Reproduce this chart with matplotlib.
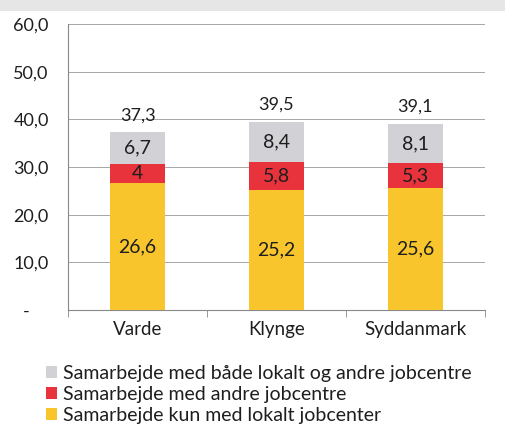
import matplotlib
matplotlib.use("Agg")
import matplotlib.pyplot as plt
import numpy as np

categories = ["Varde", "Klynge", "Syddanmark"]
lokalt = [26.6, 25.2, 25.6]
andre = [4, 5.8, 5.3]
begge = [6.7, 8.4, 8.1]
lokalt_lbl = ["26,6", "25,2", "25,6"]
andre_lbl = ["4", "5,8", "5,3"]
begge_lbl = ["6,7", "8,4", "8,1"]
totals = [37.3, 39.5, 39.1]
total_lbl = ["37,3", "39,5", "39,1"]
series_names = ["Samarbejde med både lokalt og andre jobcentre",
                "Samarbejde med andre jobcentre",
                "Samarbejde kun med lokalt jobcenter"]
yticks = [0, 10, 20, 30, 40, 50, 60]
ytick_lbl = ["-    ", "10,0", "20,0", "30,0", "40,0", "50,0", "60,0"]

c_yel = "#f8c62c"
c_red = "#e8323c"
c_gry = "#d2d2d6"

plt.rcParams['font.family'] = ['Lato', 'DejaVu Sans']

fig = plt.figure(figsize=(5.05, 4.29), dpi=100)
fig.patch.set_facecolor("white")
# top gray strip (cut off title area)
fig.patches.append(plt.Rectangle((0, 0.975), 1, 0.025, transform=fig.transFigure,
                                 facecolor="#e6e6e6", edgecolor="none"))
ax = fig.add_axes([0.135, 0.277, 0.825, 0.667])
x = np.arange(len(categories))
w = 0.4
b1 = ax.bar(x, lokalt, w, color=c_yel, zorder=3)
b2 = ax.bar(x, andre, w, bottom=lokalt, color=c_red, zorder=3)
bot3 = [a + b for a, b in zip(lokalt, andre)]
b3 = ax.bar(x, begge, w, bottom=bot3, color=c_gry, zorder=3)

tc = "#1e1e1e"
fs = 14
for i in range(len(categories)):
    ax.text(x[i], lokalt[i] / 2, lokalt_lbl[i], ha="center", va="center", fontsize=fs, color=tc, zorder=4)
    ax.text(x[i], lokalt[i] + andre[i] / 2, andre_lbl[i], ha="center", va="center", fontsize=fs, color=tc, zorder=4)
    ax.text(x[i], bot3[i] + begge[i] / 2, begge_lbl[i], ha="center", va="center", fontsize=fs, color=tc, zorder=4)
    ax.text(x[i], totals[i] + 3.5, total_lbl[i], ha="center", va="center", fontsize=13, color=tc, zorder=4)

ax.set_xlim(-0.5, 2.5)
ax.set_ylim(0, 60)
ax.set_yticks(yticks)
ax.set_yticklabels(ytick_lbl, fontsize=13, color=tc)
ax.yaxis.grid(True, color="#a8a8a8", linewidth=0.7, zorder=0)
ax.set_axisbelow(True)
ax.tick_params(axis="y", length=0, pad=14)
ax.set_xticks(x)
ax.set_xticklabels(categories, fontsize=13.5, color=tc)
ax.tick_params(axis="x", length=0, pad=8)
ax.set_xticks([-0.5, 0.5, 1.5, 2.5], minor=True)
ax.tick_params(axis="x", which="minor", length=5, color="#888888", direction="out")
for s in ["top", "right"]:
    ax.spines[s].set_visible(False)
ax.spines["left"].set_color("#888888")
ax.spines["bottom"].set_color("#888888")

handles = [b3, b2, b1]
leg = fig.legend(handles, series_names, loc="upper left", bbox_to_anchor=(0.092, 0.15),
                 frameon=False, fontsize=14, handlelength=0.55, handleheight=0.55,
                 handletextpad=0.3, labelspacing=0.22, borderaxespad=0, borderpad=0)
for t in leg.get_texts():
    t.set_color(tc)

fig.savefig("out.png", dpi=100, facecolor="white")
